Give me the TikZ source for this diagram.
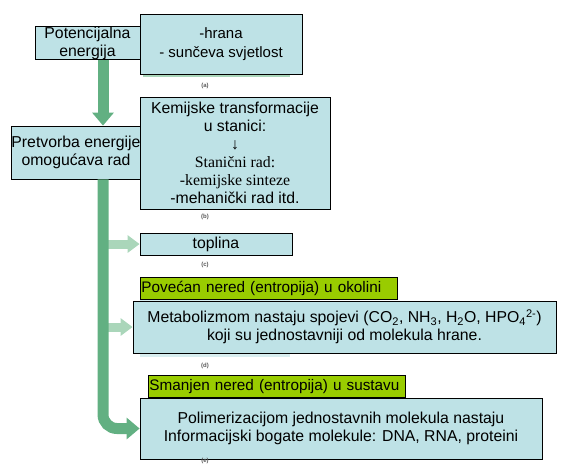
\documentclass[tikz,border=0pt]{standalone}
\usepackage{fontspec}
\setmainfont{Liberation Sans}
\newfontfamily\timesfont{Liberation Serif}
\usepackage{xcolor}
\usepackage{tikz}
\usetikzlibrary{arrows.meta}
\definecolor{boxblue}{RGB}{190,226,230}
\definecolor{taggreen}{RGB}{153,204,0}
\definecolor{flowgreen}{RGB}{98,176,130}
\definecolor{palegreen}{RGB}{170,214,186}

\begin{document}
\begin{tikzpicture}[x=1pt,y=-1pt,
    box/.style={draw,fill=boxblue,line width=0.8pt,align=center,inner sep=0pt,
        font=\fontsize{15.8}{18}\selectfont},
    tag/.style={draw,fill=taggreen,line width=0.8pt,inner xsep=1pt,inner ysep=0pt,
        text width=255pt,align=left,minimum height=22pt,
        font=\fontsize{15.3}{18}\selectfont},
    lab/.style={font=\fontsize{6}{7}\selectfont\bfseries,text=black!65},
    flow/.style={draw=flowgreen,line width=11pt,-{Triangle[width=21pt,length=13pt]}},
    branch/.style={draw=palegreen,line width=9pt,-{Triangle[width=17pt,length=12pt]}}]
    \useasboundingbox (0,0) rectangle (561,464);
    \coordinate (bar) at (103,0);

    \fill[palegreen] (143,70) rectangle (290,77);
    \node[box,minimum width=105pt,minimum height=30pt] (pot) at (87.5,43) {Potencijalna\\energija};
    \node[box,minimum width=162pt,minimum height=60pt,font=\fontsize{15}{19}\selectfont] (hrana) at (221,44) {-hrana\\- sunčeva svjetlost};
    \node[lab] (a) at (205,86) {(a)};

    \node[box,minimum width=128pt,minimum height=53pt] (pret) at (76,152.5) {Pretvorba energije\\omogućava rad};
    \node[box,minimum width=190pt,minimum height=112pt] (kem) at (235,153)
        {Kemijske transformacije\\u stanici:\\↓\\{\timesfont Stanični rad:}\\{\timesfont -kemijske sinteze}\\-mehanički rad itd.};
    \node[lab] (b) at (205,217) {(b)};

    \node[box,minimum width=152pt,minimum height=22pt] (top) at (216,244) {toplina};
    \node[lab] (c) at (205,265) {(c)};

    \node[tag,anchor=west] (pov) at (140,288) {Povećan nered (entropija) u okolini};
    \fill[boxblue!60] (140,300) rectangle (290,357);
    \node[box,minimum width=423pt,minimum height=52pt] (meta) at (344.5,327)
        {Metabolizmom nastaju spojevi (CO\textsubscript{2}, NH\textsubscript{3}, H\textsubscript{2}O, HPO\textsubscript{4}\textsuperscript{2-})\\koji su jednostavniji od molekula hrane.};
    \node[lab] (d) at (205,366) {(d)};

    \node[tag,anchor=west] (sman) at (148,386.5) {Smanjen nered (entropija) u sustavu};
    \node[box,minimum width=402pt,minimum height=61pt] (poli) at (341,428.5)
        {Polimerizacijom jednostavnih molekula nastaju\\Informacijski bogate molekule: DNA, RNA, proteini};
    \node[lab] (e) at (205,460.5) {(e)};

    \draw[branch] (bar |- top.west) -- (top.west);
    \draw[branch] (bar |- meta.west) -- (meta.west);
    \draw[flow] (bar |- pot.south) -- (bar |- pret.north);
    \draw[flow,rounded corners=14pt] (bar |- pret.south) |- (poli.west);
\end{tikzpicture}
\end{document}
